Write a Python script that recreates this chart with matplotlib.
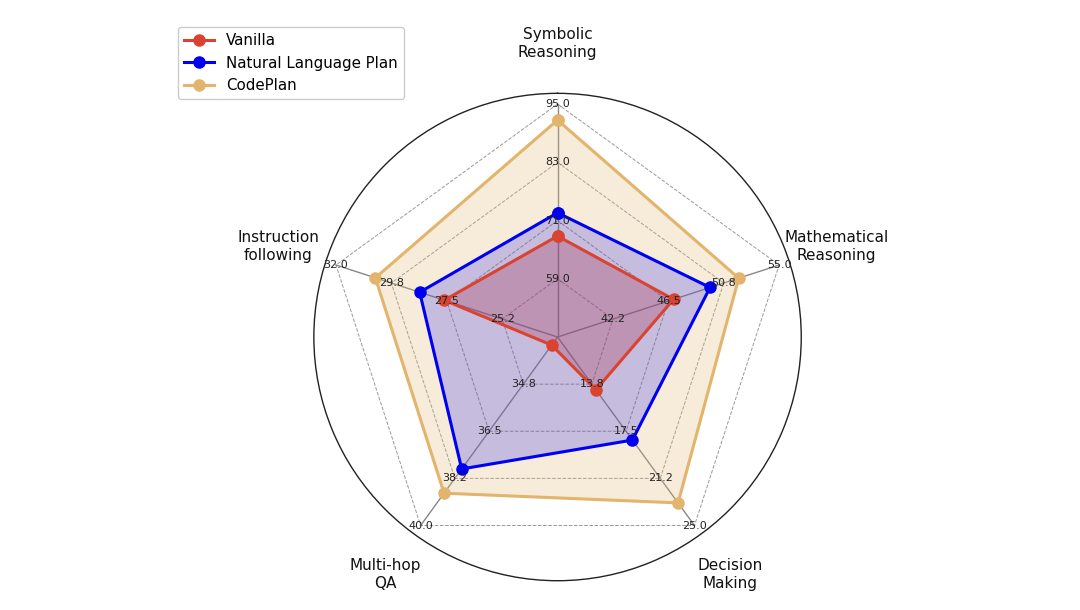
import numpy as np
import matplotlib
matplotlib.use("Agg")
import matplotlib.pyplot as plt

categories = ["Symbolic\nReasoning", "Mathematical\nReasoning", "Decision\nMaking",
              "Multi-hop\nQA", "Instruction\nfollowing"]
axis_min = [47.0, 38.0, 10.0, 33.0, 23.0]
axis_max = [95.0, 55.0, 25.0, 40.0, 32.0]

series_names = ["Vanilla", "Natural Language Plan", "CodePlan"]
vanilla = [67.8, 46.9, 14.2, 33.3, 27.6]
nl_plan = [72.6, 49.7, 18.2, 37.9, 28.6]
codeplan = [91.7, 51.9, 23.2, 38.8, 30.4]
series_values = [vanilla, nl_plan, codeplan]
series_colors = ["#d9432f", "#0000f0", "#e2b46c"]
fill_alphas = [0.3, 0.2, 0.25]

n = len(categories)
angles = np.linspace(0, 2 * np.pi, n, endpoint=False)
angles_closed = np.concatenate([angles, angles[:1]])

fig = plt.figure(figsize=(10.8, 6.1), dpi=100)
ax = fig.add_axes([0.2906, 0.048, 0.4513, 0.799], projection="polar")
ax.set_theta_offset(np.pi / 2)
ax.set_theta_direction(-1)
ax.set_ylim(0, 1.046)
ax.set_xticks([])
ax.set_yticks([])
ax.grid(False)
ax.spines["polar"].set_color("#222222")
ax.spines["polar"].set_linewidth(1.0)

# rings
levels = [0.25, 0.5, 0.75, 1.0]
for lv in levels:
    ax.plot(angles_closed, [lv] * (n + 1), color="#999999", linestyle="--",
            linewidth=0.7, zorder=1)
# radial lines
for a in angles:
    ax.plot([a, a], [0, 1.0], color="#888888", linewidth=1.0, zorder=1)

def norm(vals):
    return [(v - lo) / (hi - lo) for v, lo, hi in zip(vals, axis_min, axis_max)]

# fills: CodePlan at bottom, then Vanilla, then NL Plan on top
for idx in [2, 0, 1]:
    r = norm(series_values[idx])
    r = r + r[:1]
    ax.fill(angles_closed, r, color=series_colors[idx], alpha=fill_alphas[idx], zorder=2)

handles = {}
for idx in [2, 1, 0]:
    r = norm(series_values[idx])
    r = r + r[:1]
    (h,) = ax.plot(angles_closed, r, color=series_colors[idx], linewidth=2.2,
                   marker="o", markersize=8, label=series_names[idx], zorder=4)
    handles[idx] = h

# tick labels on each axis
for i, a in enumerate(angles):
    for lv in levels:
        val = axis_min[i] + (axis_max[i] - axis_min[i]) * lv
        ax.text(a, lv, f"{val:.1f}", ha="center", va="center", fontsize=8,
                color="#222222", zorder=5)

# category labels
for a, lab in zip(angles, categories):
    ax.text(a, 1.26, lab, ha="center", va="center", fontsize=11,
            color="#111111", clip_on=False)

fig.legend(handles=[handles[0], handles[1], handles[2]], labels=series_names,
           loc="upper left", bbox_to_anchor=(0.1648, 0.9557),
           bbox_transform=fig.transFigure, borderaxespad=0, fontsize=10.8,
           framealpha=1, edgecolor="#cccccc", handlelength=2.0)

fig.savefig("out.png", dpi=100)
